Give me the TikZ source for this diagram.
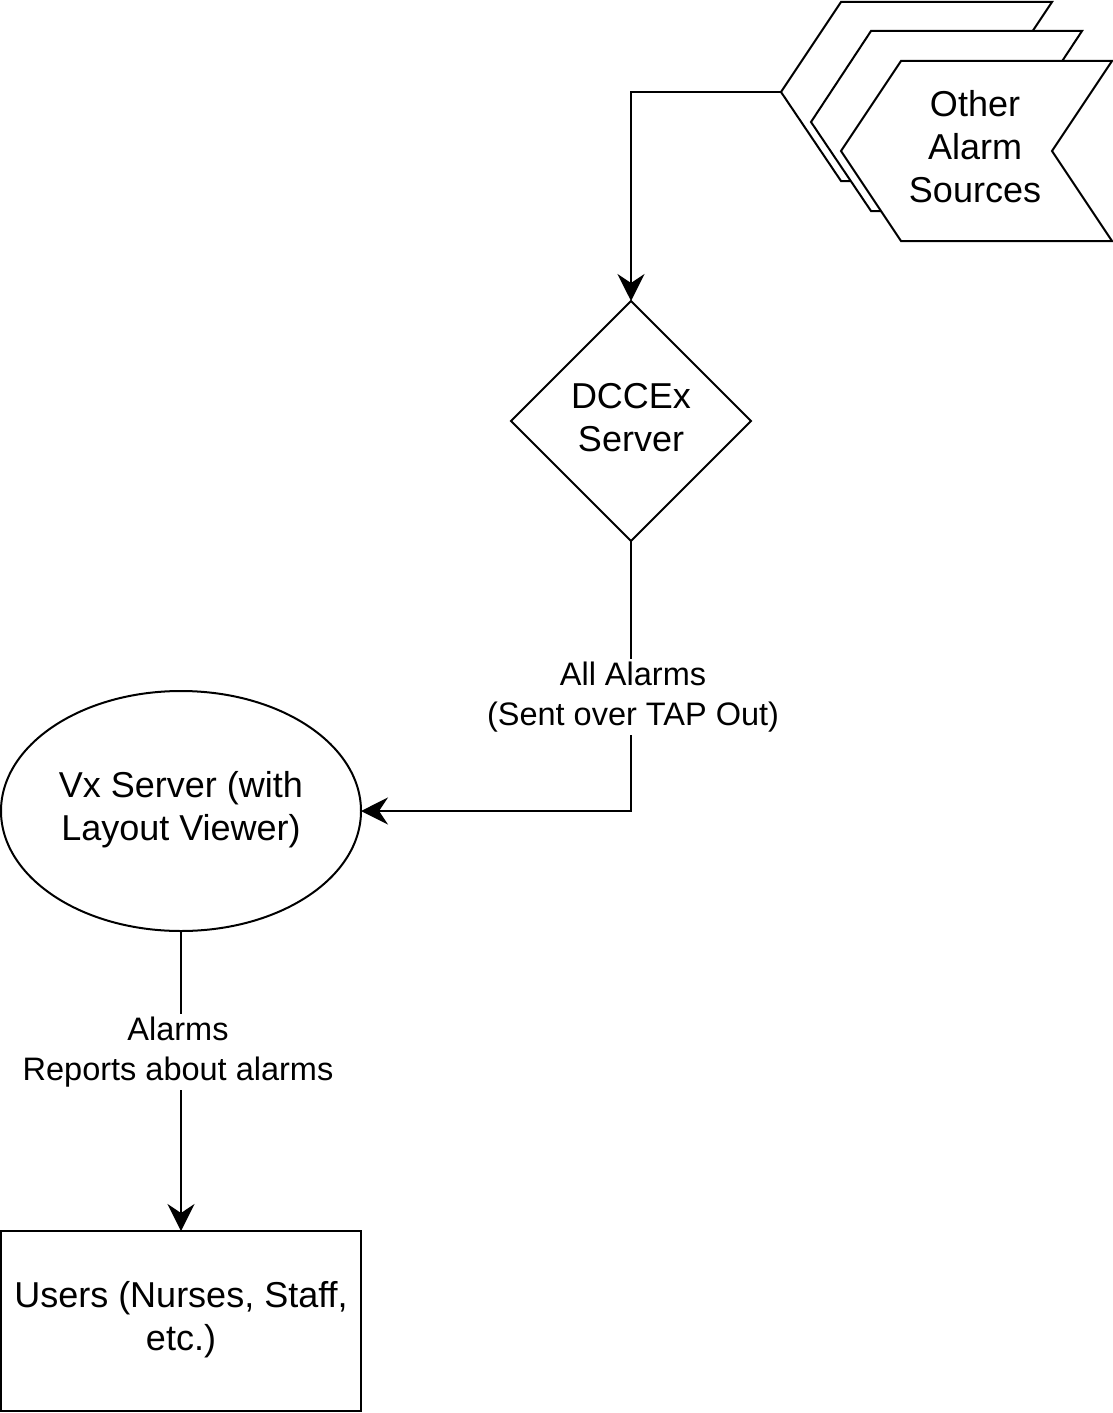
\documentclass[tikz,border=0pt]{standalone}
\usepackage{fontspec}
\setmainfont{Liberation Sans}
\usetikzlibrary{shapes.geometric,arrows.meta}
\begin{document}
\begin{tikzpicture}[x=1pt,y=-1pt,
  shapeline/.style={draw=black, line width=2pt, fill=white, line join=miter},
  nodefont/.style={font=\fontsize{36}{43}\selectfont, align=center},
  edgefont/.style={font=\fontsize{32.5}{40}\selectfont, align=center, fill=white, inner sep=3pt},
  conn/.style={draw=black, line width=2pt, -{Stealth[length=27pt, width=27pt, inset=9pt]}}]
\useasboundingbox[fill=white] (0,0) rectangle (1113,1413);

% stacked step shapes (other alarm sources)
\draw[shapeline] (841,2) -- (1052,2) -- (992,92) -- (1052,181) -- (841,181) -- (781,92) -- cycle;
\draw[shapeline] (871,31) -- (1082,31) -- (1022,122) -- (1082,211) -- (871,211) -- (811,122) -- cycle;
\draw[shapeline] (901,61) -- (1112,61) -- (1052,151) -- (1112,241) -- (901,241) -- (841,151) -- cycle;
\node[nodefont] (src3) at (975,147) {Other\\Alarm\\Sources};
\coordinate (src) at (781,92);

% DCCEx server
\node[diamond, shapeline, minimum width=240pt, minimum height=240pt, inner sep=0pt, outer sep=0pt,
  label={[nodefont, yshift=3pt]center:DCCEx\\Server}] (dcc) at (631,421) {};

% Vx server
\node[ellipse, shapeline, minimum width=360pt, minimum height=240pt, inner sep=0pt, outer sep=0pt,
  label={[nodefont, yshift=1pt]center:Vx Server (with\\Layout Viewer)}] (vx) at (181,811) {};

% Users
\node[rectangle, shapeline, minimum width=360pt, minimum height=180pt, inner sep=0pt, outer sep=0pt,
  label={[nodefont, yshift=1pt]center:Users (Nurses, Staff,\\etc.)}] (usr) at (181,1321) {};

% connectors
\draw[conn] (src) -| (dcc.north);
\draw[conn] (dcc.south) |- node[pos=0.285, edgefont, xshift=2pt, yshift=-2pt] {All Alarms\\(Sent over TAP Out)} (vx.east);
\draw[conn] (vx.south) -- node[pos=0.4, edgefont, xshift=-3pt, yshift=-1pt] {Alarms\\Reports about alarms} (usr.north);
\end{tikzpicture}
\end{document}
